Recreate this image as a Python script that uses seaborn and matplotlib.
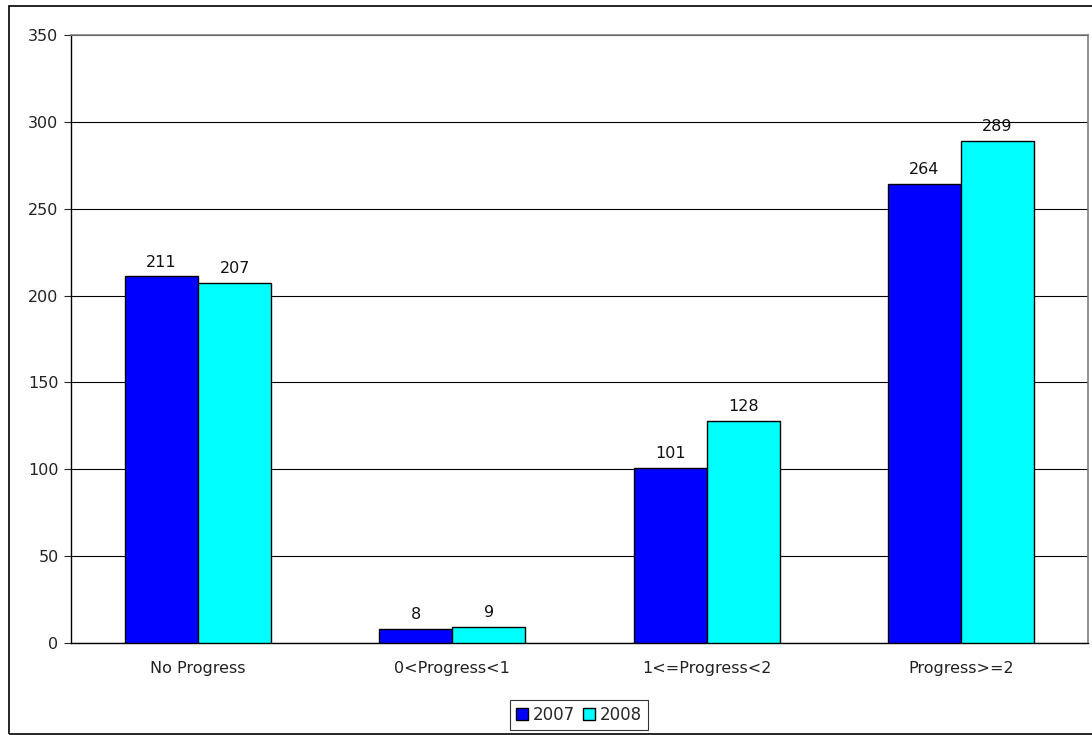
import numpy as np
import pandas as pd
import matplotlib.pyplot as plt
import seaborn as sns
from matplotlib.patches import Rectangle

# podaci
categories = ['No Progress', '0<Progress<1', '1<=Progress<2', 'Progress>=2']
years = ['2007', '2008']
vals_2007 = [211, 8, 101, 264]
vals_2008 = [207, 9, 128, 289]

df = pd.DataFrame({
    'category': categories * 2,
    'year': [years[0]] * 4 + [years[1]] * 4,
    'value': vals_2007 + vals_2008,
})

sns.set_style('white')
plt.rcParams['font.family'] = ['DejaVu Sans']
fs = 11.5

fig = plt.figure(figsize=(10.92, 7.35), dpi=100)
ax = fig.add_axes([71/1092, 1 - 643/735, (1088-71)/1092, (643-35)/735])

sns.barplot(data=df, x='category', y='value', hue='year', order=categories,
            hue_order=years, palette=['#0000ff', '#00ffff'], width=0.575,
            edgecolor='black', linewidth=1, saturation=1, ax=ax, legend=False,
            zorder=3)

for cont in ax.containers:
    ax.bar_label(cont, padding=5, fontsize=fs, color='#111111')

ax.set_ylim(0, 350)
ax.set_xlim(-0.5, 3.5)
ax.set_yticks(range(0, 351, 50))
ax.yaxis.grid(True, color='black', linewidth=0.8, zorder=0)
ax.set_axisbelow(True)
ax.set_xlabel('')
ax.set_ylabel('')

# ticks na granicama kategorija
ax.set_xticks([0, 1, 2, 3])
ax.set_xticklabels(categories, fontsize=fs, color='#222222')
ax.tick_params(axis='x', length=0, pad=13)
ax.set_xticks([-0.5, 0.5, 1.5, 2.5, 3.5], minor=True)
ax.tick_params(axis='x', which='minor', length=5, color='gray', direction='out')
ax.tick_params(axis='y', length=5, direction='out', labelsize=fs, labelcolor='#222222',
               pad=4, left=True)

for s in ['left', 'bottom']:
    ax.spines[s].set_color('black')
    ax.spines[s].set_linewidth(1)
for s in ['top', 'right']:
    ax.spines[s].set_color('gray')
    ax.spines[s].set_linewidth(1.2)

# legenda
handles = [Rectangle((0, 0), 1, 1, facecolor=c, edgecolor='black') for c in ['#0000ff', '#00ffff']]
leg = fig.legend(handles, years, loc='center', bbox_to_anchor=(579/1092, 1 - 715/735),
                 ncol=2, fontsize=fs + 0.5, frameon=True, fancybox=False, handlelength=0.7,
                 handleheight=0.7, handletextpad=0.3, columnspacing=0.5,
                 borderpad=0.35)
leg.get_frame().set_edgecolor('black')
leg.get_frame().set_linewidth(0.8)

# vanjski okvir
fig.patches.append(Rectangle((9/1092, 1/735), 1.0, 1 - 7/735, transform=fig.transFigure,
                             fill=False, edgecolor='black', linewidth=1.2))

fig.savefig('out.png', dpi=100)
